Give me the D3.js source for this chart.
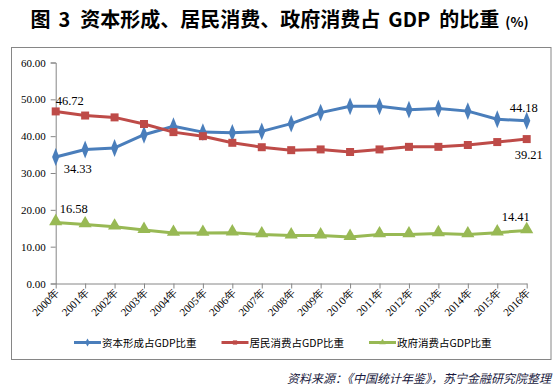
<!DOCTYPE html>
<html><head><meta charset="utf-8">
<script src="https://cdn.jsdelivr.net/npm/d3@7"></script>
<style>body{margin:0;background:#fff}svg{display:block}</style>
</head><body>
<svg id="c" width="559" height="390"></svg>
<script>
const years = ["2000年","2001年","2002年","2003年","2004年","2005年","2006年","2007年","2008年","2009年","2010年","2011年","2012年","2013年","2014年","2015年","2016年"];
const seriesNames = ["资本形成占GDP比重","居民消费占GDP比重","政府消费占GDP比重"];
const capital = [34.33,36.4,36.8,40.4,42.7,41.1,40.9,41.3,43.4,46.4,48.1,48.1,47.2,47.5,46.8,44.6,44.18];
const household = [46.72,45.6,45.1,43.3,41.1,40.0,38.2,37.0,36.2,36.4,35.7,36.4,37.1,37.1,37.6,38.4,39.21];
const government = [16.58,16.0,15.4,14.5,13.7,13.7,13.8,13.3,13.0,13.0,12.6,13.3,13.3,13.6,13.3,13.8,14.41];
const yTicks = [0,10,20,30,40,50,60];
const titleParts = ["图", "3", "资本形成、居民消费、政府消费占", "GDP", "的比重", "(%)"];
const source = "资料来源：《中国统计年鉴》，苏宁金融研究院整理";

const colors = ["#4a7ebb","#be4b48","#98b954"];
const markers = [d3.symbolDiamond, d3.symbolSquare, d3.symbolTriangle];
const markerSizes = [70, 64, 75];
const data = [capital, household, government];

const svg = d3.select("#c");
const serif = "'Liberation Serif','Times New Roman',serif";
const cjk = "'Noto Sans CJK SC',sans-serif";

// frame
svg.append("rect").attr("x",11.5).attr("y",47.5).attr("width",539.5).attr("height",312)
  .attr("fill","none").attr("stroke","#868686").attr("stroke-width",1);

// title
const titleGap = [0, 8, 10, 8, 9, 6];
const titleSize = [20, 20, 20, 20, 20, 13.5];
const t = svg.append("text").attr("x",30.5).attr("y",26.5).attr("font-family",cjk)
  .attr("font-weight","bold").attr("fill","#000");
titleParts.forEach((p,i)=>{
  t.append("tspan").attr("dx",titleGap[i]).attr("font-size",titleSize[i]).text(p);
});

const x = d3.scalePoint().domain(years).range([55.7, 526.7]);
const y = d3.scaleLinear().domain([0,60]).range([283.5, 62.5]);

// y axis
const ya = svg.append("g").attr("transform","translate(55.7,0)")
  .call(d3.axisLeft(y).tickValues(yTicks).tickFormat(d=>d.toFixed(2)).tickSize(5).tickPadding(5));
ya.select(".domain").attr("stroke","#868686");
ya.selectAll(".tick line").attr("stroke","#868686");
ya.selectAll(".tick text").attr("font-family",serif).attr("font-size",11).attr("fill","#000");

// x axis
const xa = svg.append("g").attr("transform","translate(0,283.5)")
  .call(d3.axisBottom(x).tickSize(5).tickSizeOuter(0));
xa.select(".domain").attr("stroke","#868686");
xa.selectAll(".tick line").attr("stroke","#868686");
xa.selectAll(".tick text").attr("font-family",serif).attr("font-size",11).attr("fill","#000")
  .attr("text-anchor","end").attr("dy",0).attr("y",0)
  .attr("transform","translate(4,10) rotate(-45)");

// lines
const line = d3.line().x((d,i)=>x(years[i])).y(d=>y(d));
data.forEach((s,k)=>{
  svg.append("path").datum(s).attr("d",line).attr("fill","none")
    .attr("stroke",colors[k]).attr("stroke-width",3).attr("stroke-linejoin","round");
});
data.forEach((s,k)=>{
  svg.append("g").selectAll("path").data(s).join("path")
    .attr("transform",(d,i)=>`translate(${x(years[i])},${y(d) + (k===2?-1:0)})${k===0?" scale(0.8,1.15)":""}`)
    .attr("d",d3.symbol().type(markers[k]).size(markerSizes[k]))
    .attr("fill",colors[k]);
});

// data labels (first and last values)
const labelOffsets = [
  [[8,16],[-17,-9]],
  [[0,-6],[-12,20]],
  [[4,-9],[-25,-9]]
];
data.forEach((s,k)=>{
  [0, s.length-1].forEach((i,j)=>{
    svg.append("text").attr("x",x(years[i])+labelOffsets[k][j][0]).attr("y",y(s[i])+labelOffsets[k][j][1])
      .attr("font-family",serif).attr("font-size",12.5).attr("fill","#000").text(s[i].toFixed(2));
  });
});

// legend
const legX = [74, 221.5, 369];
seriesNames.forEach((n,k)=>{
  const g = svg.append("g").attr("transform",`translate(${legX[k]},342.5)`);
  g.append("line").attr("x1",0).attr("x2",27).attr("stroke",colors[k]).attr("stroke-width",3);
  g.append("path").attr("transform","translate(13.5,0)").attr("d",d3.symbol().type(markers[k]).size(18)).attr("fill",colors[k]);
  g.append("text").attr("x",28).attr("y",4).attr("font-family",cjk).attr("font-size",10.5).attr("fill","#000").text(n);
});

// source
svg.append("text").attr("x",551).attr("y",383).attr("text-anchor","end")
  .attr("font-family",cjk).attr("font-style","italic").attr("font-size",12).attr("fill","#1a1a40").text(source);
</script>
</body></html>
